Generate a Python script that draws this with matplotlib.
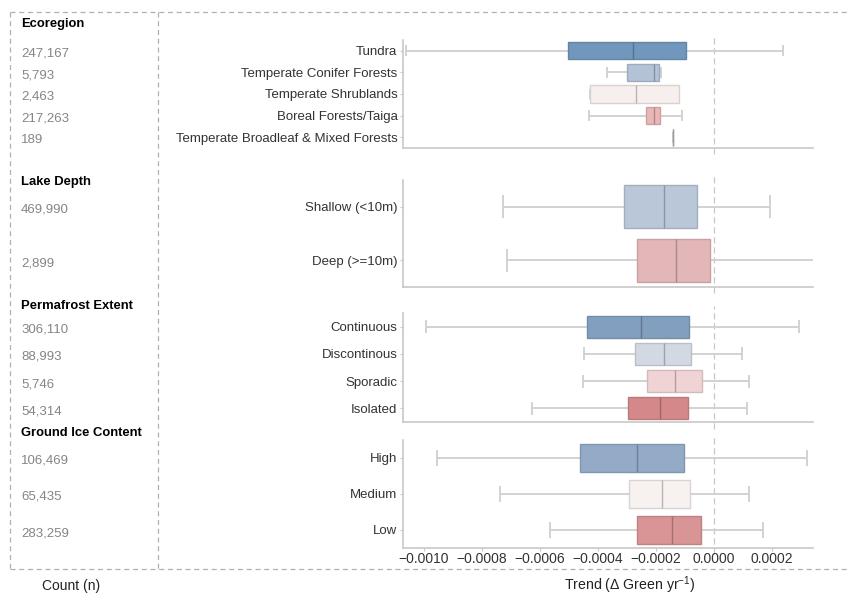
import matplotlib
matplotlib.use("Agg")
import matplotlib.pyplot as plt
from matplotlib.transforms import blended_transform_factory, offset_copy
from matplotlib.lines import Line2D

plt.rcParams['font.family'] = ['Liberation Sans', 'DejaVu Sans']
plt.rcParams['mathtext.fontset'] = 'custom'
plt.rcParams['mathtext.rm'] = 'Liberation Sans'
plt.rcParams['mathtext.it'] = 'Liberation Sans:italic'

# ---- data ----
eco_labels = ["Tundra", "Temperate Conifer Forests", "Temperate Shrublands",
              "Boreal Forests/Taiga", "Temperate Broadleaf & Mixed Forests"]
eco_counts = [247167, 5793, 2463, 217263, 189]
eco_whislo = [-0.00106, -0.00037, -0.000428, -0.000432, -0.000143]
eco_q1 = [-0.000504, -0.000300, -0.000428, -0.000233, -0.000143]
eco_med = [-0.000278, -0.000207, -0.000268, -0.000206, -0.000143]
eco_q3 = [-0.000097, -0.000189, -0.000120, -0.000187, -0.000143]
eco_whishi = [0.000237, -0.000183, -0.000120, -0.000111, -0.000143]
eco_colors = ["#7197bc", "#b3c2d7", "#f6efed", "#e9b7b8", "#d0d0d0"]

depth_labels = ["Shallow (<10m)", "Deep (>=10m)"]
depth_counts = [469990, 2899]
depth_whislo = [-0.000729, -0.000713]
depth_q1 = [-0.000309, -0.000264]
depth_med = [-0.000173, -0.000131]
depth_q3 = [-0.000060, -0.000014]
depth_whishi = [0.000193, 0.000349]
depth_colors = ["#b9c7d8", "#e3b7b8"]

perma_labels = ["Continuous", "Discontinous", "Sporadic", "Isolated"]
perma_counts = [306110, 88993, 5746, 54314]
perma_whislo = [-0.000994, -0.000449, -0.000450, -0.000629]
perma_q1 = [-0.000437, -0.000271, -0.000231, -0.000298]
perma_med = [-0.000251, -0.000174, -0.000133, -0.000187]
perma_q3 = [-0.000085, -0.000081, -0.000040, -0.000089]
perma_whishi = [0.000293, 0.000098, 0.000122, 0.000112]
perma_colors = ["#839fbf", "#d3d9e3", "#f0d3d4", "#d48889"]

ice_labels = ["High", "Medium", "Low"]
ice_counts = [106469, 65435, 283259]
ice_whislo = [-0.000955, -0.000737, -0.000564]
ice_q1 = [-0.000462, -0.000292, -0.000266]
ice_med = [-0.000267, -0.000178, -0.000146]
ice_q3 = [-0.000103, -0.000082, -0.000045]
ice_whishi = [0.000322, 0.000121, 0.000170]
ice_colors = ["#93abc7", "#f7f1f0", "#d99496"]

xticks = [-0.0010, -0.0008, -0.0006, -0.0004, -0.0002, 0.0000, 0.0002]

panels = [
    ("Ecoregion", eco_labels, eco_counts, eco_whislo, eco_q1, eco_med, eco_q3, eco_whishi, eco_colors),
    ("Lake Depth", depth_labels, depth_counts, depth_whislo, depth_q1, depth_med, depth_q3, depth_whishi, depth_colors),
    ("Permafrost Extent", perma_labels, perma_counts, perma_whislo, perma_q1, perma_med, perma_q3, perma_whishi, perma_colors),
    ("Ground Ice Content", ice_labels, ice_counts, ice_whislo, ice_q1, ice_med, ice_q3, ice_whishi, ice_colors),
]

W, H = 850, 595
fig = plt.figure(figsize=(8.5, 5.95), dpi=100)

# panel extents in pixels (top, bottom) and header y
ax_left, ax_right = 403, 813
extents = [(40, 148), (180, 287), (313, 422), (440, 548)]
header_y = [24, 182, 306, 433]

def darker(c, f=0.8):
    r, g, b = matplotlib.colors.to_rgb(c)
    return (r * f, g * f, b * f)

spine_col = "#c8c8c8"
whisk_col = "#d2d2d2"

for i, (title, labels, counts, wlo, q1, med, q3, whi, cols) in enumerate(panels):
    top, bot = extents[i]
    ax = fig.add_axes([ax_left / W, 1 - bot / H, (ax_right - ax_left) / W, (bot - top) / H])
    n = len(labels)
    stats = []
    for j in range(n):
        stats.append(dict(med=med[j], q1=q1[j], q3=q3[j], whislo=wlo[j], whishi=whi[j], fliers=[]))
    pos = list(range(n))
    bp = ax.bxp(stats, positions=pos, vert=False, widths=0.8, capwidths=0.4,
                showfliers=False, patch_artist=True,
                whiskerprops=dict(color=whisk_col, lw=1.4),
                capprops=dict(color=whisk_col, lw=1.4))
    for j, box in enumerate(bp['boxes']):
        box.set_facecolor(cols[j])
        box.set_edgecolor(darker(cols[j], 0.88))
        box.set_linewidth(1.0)
        box.set_zorder(3)
        bp['medians'][j].set_color(darker(cols[j], 0.75))
        bp['medians'][j].set_linewidth(1.0)
        bp['medians'][j].set_zorder(4)
    ax.set_ylim(n - 0.5, -0.5)
    ax.set_xlim(-0.001072, 0.000341)
    ax.set_yticks(pos)
    ax.set_yticklabels(labels, fontsize=9.5, color="#333333")
    ax.axvline(0, ymin=-0.06, ymax=1.06, color="#c8c8c8", lw=0.9, ls=(0, (5, 3)),
               clip_on=False, zorder=1)
    for s in ['top', 'right']:
        ax.spines[s].set_visible(False)
    for s in ['left', 'bottom']:
        ax.spines[s].set_color(spine_col)
        ax.spines[s].set_linewidth(1.2)
    ax.tick_params(axis='y', length=2, color=spine_col, pad=2)
    if i == len(panels) - 1:
        ax.set_xticks(xticks)
        ax.set_xticklabels([("%.4f" % t).replace("-", "\u2212") for t in xticks],
                           fontsize=10, color="#333333")
        ax.tick_params(axis='x', length=2, color=spine_col, pad=1)
    else:
        ax.set_xticks([])

    # left count column, nudged a few pixels below the row centre like the reference
    tr = blended_transform_factory(fig.transFigure, ax.transData)
    tr = offset_copy(tr, fig=fig, x=0, y=-3, units='dots')
    for j in range(n):
        ax.text(21 / W, pos[j], f"{counts[j]:,}", transform=tr, fontsize=9.5,
                color="#858585", va='center', ha='left')
    fig.text(21 / W, 1 - header_y[i] / H, title, fontsize=9.4, fontweight='bold',
             color="black", va='center', ha='left')

# dashed frame
dash_col = "#b0b0b0"
frame_top, frame_bot = 12, 569
fig.add_artist(Line2D([10 / W, 1], [1 - frame_top / H] * 2, transform=fig.transFigure,
                      color=dash_col, lw=0.9, ls=(0, (4, 3))))
fig.add_artist(Line2D([10 / W, 1], [1 - frame_bot / H] * 2, transform=fig.transFigure,
                      color=dash_col, lw=0.9, ls=(0, (4, 3))))
for xv in [10, 158]:
    fig.add_artist(Line2D([xv / W] * 2, [1 - frame_top / H, 1 - frame_bot / H],
                          transform=fig.transFigure, color=dash_col, lw=0.9, ls=(0, (4, 3))))

fig.text(42 / W, 1 - 586 / H, "Count (n)", fontsize=10, color="#222222", va='center', ha='left')
fig.text(630 / W, 1 - 585 / H, r"Trend ($\Delta$ Green yr$^{-1}$)", fontsize=10.2,
         color="#222222", va='center', ha='center')

fig.savefig("out.png", dpi=100)
